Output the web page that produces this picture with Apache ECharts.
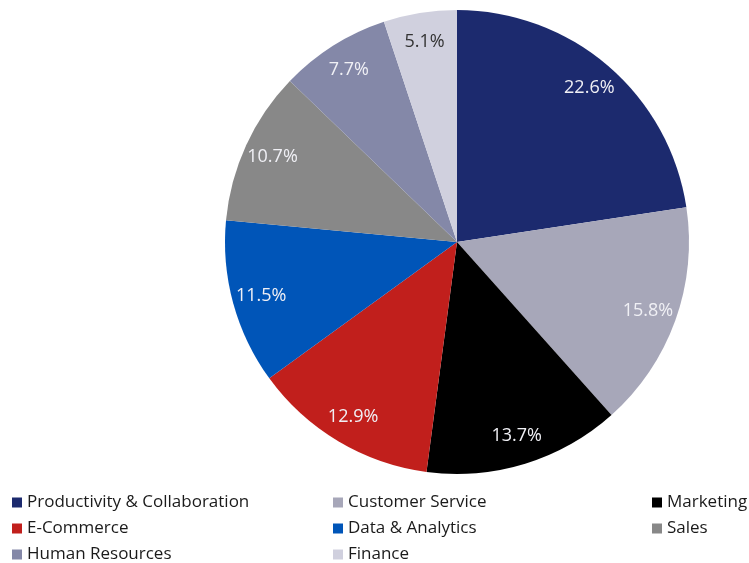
<!DOCTYPE html>
<html>
<head>
<meta charset="utf-8">
<script src="https://cdn.jsdelivr.net/npm/echarts@6/dist/echarts.min.js"></script>
<style>
  html, body { margin: 0; padding: 0; background: #fff; }
  #chart { width: 749px; height: 563px; }
</style>
</head>
<body>
<div id="chart"></div>
<script>
// Share of use cases by business function (%)
const categories = [
  'Productivity & Collaboration', 'Customer Service', 'Marketing', 'E-Commerce',
  'Data & Analytics', 'Sales', 'Human Resources', 'Finance'
];
const shares = [22.6, 15.8, 13.7, 12.9, 11.5, 10.7, 7.7, 5.1];
const colors = ['#1c2a6e', '#a7a7b9', '#000000', '#c11f1c', '#0055b8', '#888888', '#8488a8', '#d0d0de'];
const labelColors = ['#f0f0f5', '#f0f0f5', '#f0f0f5', '#f0f0f5', '#f0f0f5', '#f0f0f5', '#f0f0f5', '#333333'];

// Legend columns (row-major order across three columns)
const legendCols = [
  ['Productivity & Collaboration', 'E-Commerce', 'Human Resources'],
  ['Customer Service', 'Data & Analytics', 'Finance'],
  ['Marketing', 'Sales']
];
const legendLeft = [12, 333, 652];

const FONT = '"Open Sans", sans-serif';

const pieData = categories.map((name, i) => ({
  name, value: shares[i], itemStyle: { color: colors[i] }
}));
const labelData = categories.map((name, i) => ({
  name, value: shares[i],
  itemStyle: { color: 'rgba(0,0,0,0)' },
  label: { color: labelColors[i] }
}));

const chart = echarts.init(document.getElementById('chart'));
chart.setOption({
  animation: false,
  legend: legendCols.map((col, j) => ({
    data: col,
    orient: 'vertical',
    left: legendLeft[j],
    top: 494,
    height: 69,
    padding: 0,
    itemWidth: 10,
    itemHeight: 10,
    itemGap: 9,
    icon: 'rect',
    selectedMode: false,
    textStyle: { fontFamily: FONT, fontSize: 17, color: '#1a1a1a', lineHeight: 17 }
  })),
  series: [
    {
      type: 'pie',
      center: [457, 242],
      radius: [0, 232],
      startAngle: 90,
      clockwise: true,
      data: pieData,
      label: { show: false },
      labelLine: { show: false },
      itemStyle: { borderWidth: 0 },
      emphasis: { disabled: true }
    },
    {
      // transparent ring that carries the percentage labels
      type: 'pie',
      center: [457, 242],
      radius: [168, 232],
      startAngle: 90,
      clockwise: true,
      silent: true,
      data: labelData,
      legendHoverLink: false,
      label: {
        show: true,
        position: 'inside',
        fontFamily: FONT,
        fontSize: 18,
        formatter: p => p.value.toFixed(1) + '%'
      },
      labelLine: { show: false },
      emphasis: { disabled: true }
    }
  ]
});
</script>
</body>
</html>
